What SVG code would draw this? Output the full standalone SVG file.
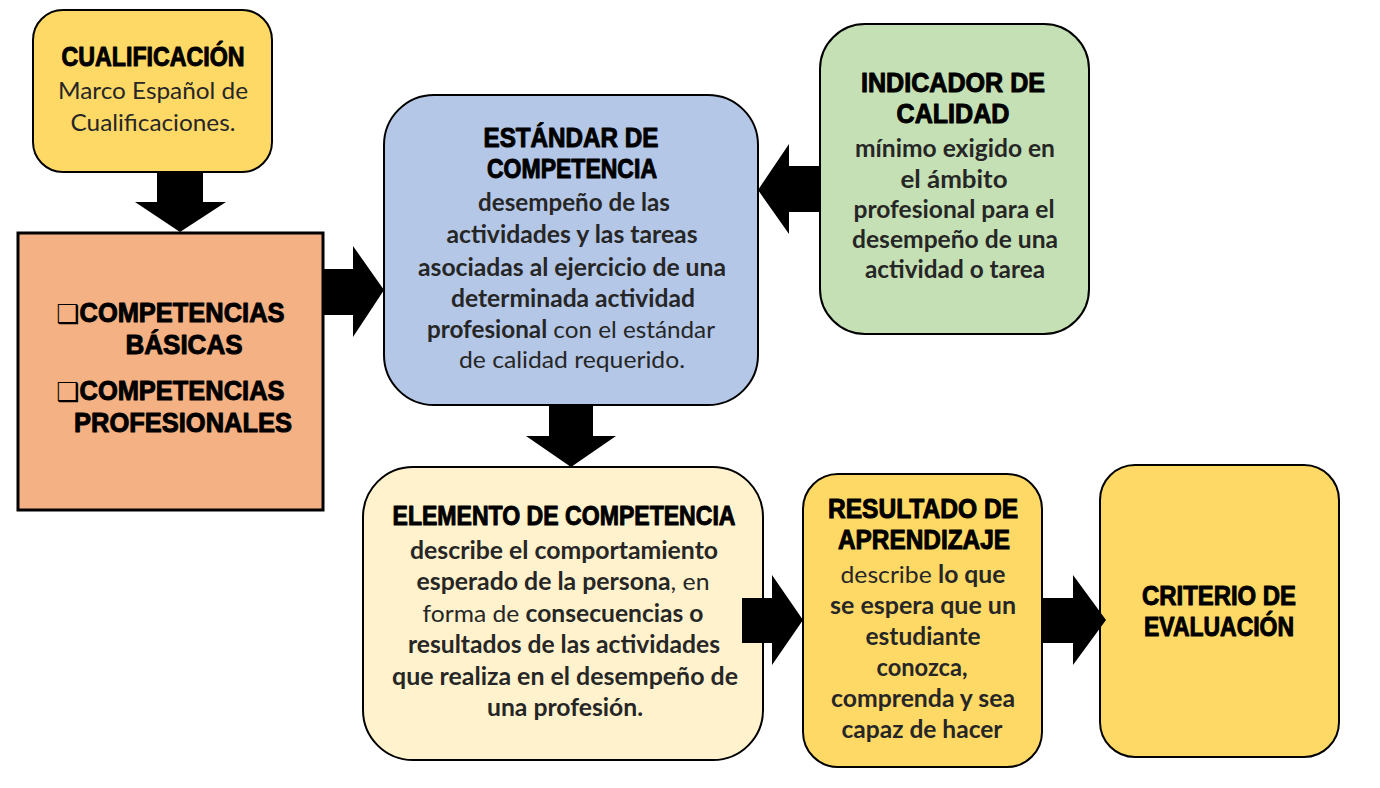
<svg xmlns="http://www.w3.org/2000/svg" width="1380" height="788" viewBox="0 0 1380 788">
<style>
.box{stroke:#000;stroke-width:2}
.ttl{font-family:"Liberation Sans",Arial,sans-serif;font-weight:bold;font-size:27px;fill:#000;stroke:#000;stroke-width:1;stroke-linejoin:round;text-anchor:middle}
.big{font-size:28px}
.bd{font-family:Lato,"Open Sans",sans-serif;font-size:24px;fill:#262626;text-anchor:middle}
.b{font-weight:bold}
.chk{font-family:"DejaVu Sans",sans-serif;font-weight:normal;font-size:26px;fill:#000;stroke:none;text-anchor:start}
.arr{fill:#000}
</style>
<rect width="1380" height="788" fill="#fff"/>
<g id="cualificacion">
<rect class="box" x="33" y="10" width="239" height="162" rx="30" fill="#FFD966"/>
<text class="ttl" x="153" y="66" textLength="183" lengthAdjust="spacingAndGlyphs">CUALIFICACIÓN</text>
<text class="bd" x="153" y="99" textLength="190" lengthAdjust="spacingAndGlyphs">Marco Español de</text>
<text class="bd" x="153" y="131" textLength="165" lengthAdjust="spacingAndGlyphs">Cualificaciones.</text>
</g>
<g id="competencias">
<rect x="18" y="233" width="305" height="277" fill="#F4B183" stroke="#000" stroke-width="3"/>
<text class="ttl big"><tspan class="chk" x="56" y="323">❑</tspan><tspan x="182" y="322" textLength="205" lengthAdjust="spacingAndGlyphs">COMPETENCIAS</tspan><tspan x="184" y="354" textLength="117" lengthAdjust="spacingAndGlyphs">BÁSICAS</tspan><tspan class="chk" x="56" y="401">❑</tspan><tspan x="182" y="400" textLength="205" lengthAdjust="spacingAndGlyphs">COMPETENCIAS</tspan><tspan x="183" y="432" textLength="218" lengthAdjust="spacingAndGlyphs">PROFESIONALES</tspan></text>
</g>
<g id="estandar">
<rect class="box" x="384" y="95" width="374" height="310" rx="50" fill="#B4C7E7"/>
<text class="ttl"><tspan x="571" y="147" textLength="175" lengthAdjust="spacingAndGlyphs">ESTÁNDAR DE</tspan><tspan x="572" y="178" textLength="170" lengthAdjust="spacingAndGlyphs">COMPETENCIA</tspan></text>
<text class="bd b" x="574" y="211" textLength="192" lengthAdjust="spacingAndGlyphs">desempeño de las</text>
<text class="bd b" x="572" y="243" textLength="251" lengthAdjust="spacingAndGlyphs">actividades y las tareas</text>
<text class="bd b" x="572" y="276" textLength="308" lengthAdjust="spacingAndGlyphs">asociadas al ejercicio de una</text>
<text class="bd b" x="573" y="307" textLength="244" lengthAdjust="spacingAndGlyphs">determinada actividad</text>
<text class="bd" x="571" y="338" textLength="288" lengthAdjust="spacingAndGlyphs"><tspan class="b">profesional</tspan> con el estándar</text>
<text class="bd" x="572" y="368" textLength="226" lengthAdjust="spacingAndGlyphs">de calidad requerido.</text>
</g>
<g id="indicador">
<rect class="box" x="820" y="24" width="269" height="310" rx="45" fill="#C5E0B4"/>
<text class="ttl"><tspan x="953" y="92" textLength="184" lengthAdjust="spacingAndGlyphs">INDICADOR DE</tspan><tspan x="953" y="123" textLength="113" lengthAdjust="spacingAndGlyphs">CALIDAD</tspan></text>
<text class="bd b" x="955" y="157" textLength="200" lengthAdjust="spacingAndGlyphs">mínimo exigido en</text>
<text class="bd b" x="954" y="188" textLength="107" lengthAdjust="spacingAndGlyphs">el ámbito</text>
<text class="bd b" x="954" y="218" textLength="201" lengthAdjust="spacingAndGlyphs">profesional para el</text>
<text class="bd b" x="955" y="248" textLength="206" lengthAdjust="spacingAndGlyphs">desempeño de una</text>
<text class="bd b" x="955" y="278" textLength="180" lengthAdjust="spacingAndGlyphs">actividad o tarea</text>
</g>
<g id="elemento">
<rect class="box" x="363" y="467" width="400" height="293" rx="50" fill="#FFF2CC"/>
<text class="ttl" x="564" y="525" textLength="343" lengthAdjust="spacingAndGlyphs">ELEMENTO DE COMPETENCIA</text>
<text class="bd b" x="564" y="559" textLength="308" lengthAdjust="spacingAndGlyphs">describe el comportamiento</text>
<text class="bd" x="563" y="590" textLength="293" lengthAdjust="spacingAndGlyphs"><tspan class="b">esperado de la persona</tspan>, en</text>
<text class="bd" x="563" y="622" textLength="281" lengthAdjust="spacingAndGlyphs">forma de <tspan class="b">consecuencias o</tspan></text>
<text class="bd b" x="564" y="653" textLength="312" lengthAdjust="spacingAndGlyphs">resultados de las actividades</text>
<text class="bd b" x="565" y="685" textLength="346" lengthAdjust="spacingAndGlyphs">que realiza en el desempeño de</text>
<text class="bd b" x="565" y="716" textLength="156" lengthAdjust="spacingAndGlyphs">una profesión.</text>
</g>
<g id="resultado">
<rect class="box" x="803" y="474" width="239" height="293" rx="35" fill="#FFD966"/>
<text class="ttl"><tspan x="923" y="518" textLength="190" lengthAdjust="spacingAndGlyphs">RESULTADO DE</tspan><tspan x="924" y="549" textLength="172" lengthAdjust="spacingAndGlyphs">APRENDIZAJE</tspan></text>
<text class="bd" x="923" y="583" textLength="165" lengthAdjust="spacingAndGlyphs">describe <tspan class="b">lo que</tspan></text>
<text class="bd b" x="923" y="614" textLength="186" lengthAdjust="spacingAndGlyphs">se espera que un</text>
<text class="bd b" x="923" y="645" textLength="115" lengthAdjust="spacingAndGlyphs">estudiante</text>
<text class="bd b" x="922" y="676" textLength="91" lengthAdjust="spacingAndGlyphs">conozca,</text>
<text class="bd b" x="923" y="707" textLength="184" lengthAdjust="spacingAndGlyphs">comprenda y sea</text>
<text class="bd b" x="922" y="738" textLength="161" lengthAdjust="spacingAndGlyphs">capaz de hacer</text>
</g>
<g id="criterio">
<rect class="box" x="1100" y="465" width="239" height="292" rx="35" fill="#FFD966"/>
<text class="ttl"><tspan x="1219" y="605" textLength="154" lengthAdjust="spacingAndGlyphs">CRITERIO DE</tspan><tspan x="1219" y="636" textLength="150" lengthAdjust="spacingAndGlyphs">EVALUACIÓN</tspan></text>
</g>
<g id="connectors">
<polygon class="arr" points="157,172 203,172 203,202 226,202 180,232 135,202 157,202"/>
<polygon class="arr" points="323,269 353,269 353,246 384,290 353,337 353,315 323,315"/>
<polygon class="arr" points="820,166 789,166 789,144 758,190 789,234 789,212 820,212"/>
<polygon class="arr" points="549,405 593,405 593,436 616,436 571,467 526,436 549,436"/>
<polygon class="arr" points="742,598 772,598 772,575 803,620 772,665 772,643 742,643"/>
<polygon class="arr" points="1043,598 1073,598 1073,575 1106,620 1073,665 1073,643 1043,643"/>
</g>
</svg>
